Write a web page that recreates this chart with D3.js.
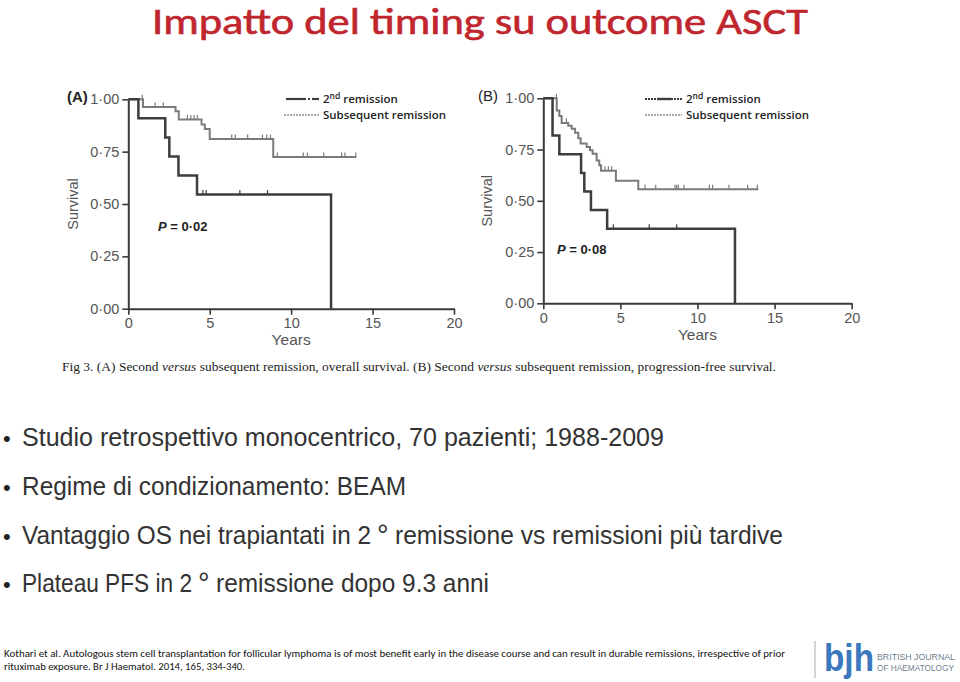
<!DOCTYPE html>
<html><head><meta charset="utf-8">
<script src="https://cdn.jsdelivr.net/npm/d3@7"></script>
<style>
html,body{margin:0;padding:0;background:#fff;}
svg{display:block;}
</style></head>
<body>
<script>
// ---------- DATA ----------
const timeTicks = [0, 5, 10, 15, 20];
const survTicks = [0, 0.25, 0.5, 0.75, 1];

// Panel A: overall survival
const osSecondSteps = [[0,1],[0.62,0.909],[2.27,0.818],[2.52,0.727],[3.08,0.636],[4.22,0.545]];
const osSecondEnd = 12.45;
const osSecondCensor = [4.58, 4.78, 6.85, 8.55];
const osSubsequentSteps = [[0,1],[0.9,0.963],[2.9,0.943],[3.1,0.904],[4.5,0.88],[4.7,0.858],[5.0,0.81],[8.9,0.724]];
const osSubsequentEnd = 14.0;
const osSubsequentCensor = [0.86,1.65,2.15,3.63,3.84,4.04,4.24,6.35,6.57,7.33,8.24,8.5,8.73,9.15,10.74,11.0,12.0,13.1,13.3,13.97];

// Panel B: progression-free survival
const pfsSecondSteps = [[0,1],[0.6,0.818],[1.04,0.727],[2.45,0.636],[2.66,0.545],[3.09,0.455],[4.14,0.364]];
const pfsSecondEnd = 12.43;
const pfsSecondCensor = [4.54, 6.87, 8.65];
const pfsSubsequentSteps = [[0,1],[0.87,0.941],[1.04,0.914],[1.19,0.88],[1.62,0.866],[1.84,0.851],[2.06,0.832],[2.27,0.805],[2.42,0.78],[2.81,0.763],[3.03,0.747],[3.2,0.73],[3.46,0.697],[3.63,0.673],[3.74,0.647],[4.71,0.598],[6.16,0.556]];
const pfsSubsequentEnd = 13.94;
const pfsSubsequentCensor = [0.85,1.5,4.0,4.22,4.43,6.6,7.29,8.54,8.65,8.76,9.12,10.77,10.98,12.04,13.25,13.88];

const legendLabels = ["remission", "Subsequent remission"];
const pValues = ["0·02", "0·08"];
const panelLetters = ["(A)", "(B)"];

const titleText = "Impatto del timing su outcome ASCT";
const captionParts = [["Fig 3.  (A) Second ", false],["versus",true],[" subsequent remission, overall survival. (B) Second ",false],["versus",true],[" subsequent remission, progression-free survival.",false]];
const bullets = [
  ["Studio retrospettivo monocentrico, 70 pazienti; 1988-2009"],
  ["Regime di condizionamento: BEAM"],
  ["Vantaggio OS nei trapiantati in 2", "remissione vs remissioni più tardive"],
  ["Plateau PFS in 2", "remissione dopo 9.3 anni"]
];
const citation = ["Kothari et al. Autologous stem cell transplantation for follicular lymphoma is of most benefit early in the disease course and can result in durable remissions, irrespective of prior",
  "rituximab exposure. Br J Haematol. 2014, 165, 334-340."];

// ---------- DRAW ----------
const W = 960, H = 682;
const svg = d3.select("body").append("svg").attr("width", W).attr("height", H);
svg.append("rect").attr("width", W).attr("height", H).attr("fill", "#fff");

svg.append("text").attr("x", 152).attr("y", 33.5)
  .attr("font-family", "Carlito, 'Liberation Sans', Arial, sans-serif").attr("font-size", 37.5)
  .attr("fill", "#c0262d").attr("stroke", "#c0262d").attr("stroke-width", 0.6)
  .attr("textLength", 656).attr("lengthAdjust", "spacingAndGlyphs")
  .text(titleText);

function stepValue(steps, t){
  let v = steps[0][1];
  for (const s of steps){ if (s[0] <= t) v = s[1]; }
  return v;
}

function panel(cfg){
  const x = d3.scaleLinear().domain([0,20]).range([cfg.x0, cfg.x1]);
  const y = d3.scaleLinear().domain([0,1]).range([cfg.y0, cfg.y1]);
  const g = svg.append("g");
  const axisColor = "#3a3a3a", labelColor = "#555";

  const xa = g.append("g").attr("transform", `translate(0,${cfg.y0})`)
    .call(d3.axisBottom(x).tickValues(timeTicks).tickSize(6).tickSizeOuter(0).tickFormat(d3.format("d")));
  const ya = g.append("g").attr("transform", `translate(${cfg.x0},0)`)
    .call(d3.axisLeft(y).tickValues(survTicks).tickSize(6).tickSizeOuter(0).tickFormat(d => d.toFixed(2).replace(".", "·")));
  [xa, ya].forEach(a => {
    a.select(".domain").attr("stroke", axisColor).attr("stroke-width", 2);
    a.selectAll(".tick line").attr("stroke", axisColor).attr("stroke-width", 1.6);
    a.selectAll(".tick text").attr("fill", labelColor).attr("font-family", "'Liberation Sans', Arial, sans-serif").attr("font-size", 14.5);
  });
  xa.selectAll(".tick text").attr("dy", "0.95em").attr("y", 6);
  ya.selectAll(".tick text").attr("x", -9);
  g.append("text").attr("x", (cfg.x0 + cfg.x1)/2).attr("y", cfg.yearsY).attr("text-anchor", "middle")
    .attr("fill", labelColor).attr("font-family", "'Liberation Sans', Arial, sans-serif").attr("font-size", 15.5).text("Years");
  g.append("text").attr("transform", `translate(${cfg.survX},${(cfg.y0+cfg.y1)/2}) rotate(-90)`)
    .attr("text-anchor", "middle").attr("fill", labelColor)
    .attr("font-family", "'Liberation Sans', Arial, sans-serif").attr("font-size", 14.5).text("Survival");
  g.append("text").attr("x", cfg.letterX).attr("y", cfg.y1 + 3).attr("fill", "#222")
    .attr("font-family", "'Liberation Sans', Arial, sans-serif").attr("font-size", 15)
    .attr("font-weight", cfg.letterBold ? "bold" : "normal").text(cfg.letter);

  const line = d3.line().x(d => x(d[0])).y(d => y(d[1])).curve(d3.curveStepAfter);

  function curve(steps, end, drop, censor, color, width){
    const last = steps[steps.length-1][1];
    const pts = steps.concat([[end, last]]);
    if (drop) pts.push([end, 0]);
    g.append("path").attr("d", line(pts)).attr("fill", "none").attr("stroke", color)
      .attr("stroke-width", width).attr("stroke-linejoin", "miter");
    g.selectAll(null).data(censor).enter().append("line")
      .attr("x1", d => x(d)).attr("x2", d => x(d))
      .attr("y1", d => y(stepValue(steps, d)) - 4.5).attr("y2", d => y(stepValue(steps, d)))
      .attr("stroke", color).attr("stroke-width", 1.2);
  }
  curve(cfg.sub, cfg.subEnd, false, cfg.subC, "#7b7b7b", 2);
  curve(cfg.sec, cfg.secEnd, true, cfg.secC, "#3d3d3d", 2.5);

  // P value
  const pt = g.append("text").attr("x", cfg.pX).attr("y", cfg.pY).attr("fill", "#222")
    .attr("font-family", "'Liberation Sans', Arial, sans-serif").attr("font-size", 13).attr("font-weight", "bold");
  pt.append("tspan").attr("font-style", "italic").text("P");
  pt.append("tspan").text(" = " + cfg.p);

  // legend
  const lx = cfg.legX, lt = cfg.legTextX;
  if (cfg.letterBold){
    g.append("line").attr("x1", lx+2).attr("x2", lx+22).attr("y1", cfg.legY).attr("y2", cfg.legY).attr("stroke", "#3d3d3d").attr("stroke-width", 2.2);
    g.append("line").attr("x1", lx+24).attr("x2", lx+26).attr("y1", cfg.legY).attr("y2", cfg.legY).attr("stroke", "#3d3d3d").attr("stroke-width", 2.2);
    g.append("line").attr("x1", lx+28).attr("x2", lt-4).attr("y1", cfg.legY).attr("y2", cfg.legY).attr("stroke", "#3d3d3d").attr("stroke-width", 2.2);
  } else {
    g.append("line").attr("x1", lx).attr("x2", lx+12).attr("y1", cfg.legY).attr("y2", cfg.legY).attr("stroke", "#3d3d3d").attr("stroke-width", 2).attr("stroke-dasharray", "2,1");
    g.append("line").attr("x1", lx+12).attr("x2", lx+26).attr("y1", cfg.legY).attr("y2", cfg.legY).attr("stroke", "#3d3d3d").attr("stroke-width", 2.4);
    g.append("line").attr("x1", lx+26).attr("x2", lt-4).attr("y1", cfg.legY).attr("y2", cfg.legY).attr("stroke", "#3d3d3d").attr("stroke-width", 2).attr("stroke-dasharray", "2,1");
  }
  g.append("line").attr("x1", lx).attr("x2", lt-4).attr("y1", cfg.legY+16).attr("y2", cfg.legY+16)
    .attr("stroke", "#555").attr("stroke-width", 1).attr("stroke-dasharray", "2,1");
  const t1 = g.append("text").attr("x", lt).attr("y", cfg.legY+4).attr("fill", "#222")
    .attr("font-family", "'Open Sans', sans-serif").attr("font-size", 11.5).attr("font-weight", 600);
  t1.append("tspan").text("2");
  t1.append("tspan").attr("font-size", 8.5).attr("dy", -4).text("nd");
  t1.append("tspan").attr("dy", 4).text(" " + legendLabels[0]);
  g.append("text").attr("x", lt).attr("y", cfg.legY+20).attr("fill", "#222")
    .attr("font-family", "'Open Sans', sans-serif").attr("font-size", 11.5).attr("font-weight", 600)
    .attr("textLength", 123).attr("lengthAdjust", "spacingAndGlyphs")
    .text(legendLabels[1]);
}

panel({x0:128.3, x1:454, y0:308.7, y1:99.3, yearsY:345, survX:78, letter:panelLetters[0], letterX:67, letterBold:true,
  sec:osSecondSteps, secEnd:osSecondEnd, secC:osSecondCensor, sub:osSubsequentSteps, subEnd:osSubsequentEnd, subC:osSubsequentCensor,
  p:pValues[0], pX:158, pY:231, legX:284, legTextX:323, legY:99});
panel({x0:543.3, x1:851.7, y0:303.3, y1:98.3, yearsY:340, survX:492, letter:panelLetters[1], letterX:478, letterBold:false,
  sec:pfsSecondSteps, secEnd:pfsSecondEnd, secC:pfsSecondCensor, sub:pfsSubsequentSteps, subEnd:pfsSubsequentEnd, subC:pfsSubsequentCensor,
  p:pValues[1], pX:557, pY:254, legX:645, legTextX:686, legY:99});

// caption
const cap = svg.append("text").attr("x", 62).attr("y", 371).attr("fill", "#222")
  .attr("font-family", "'Liberation Serif', 'DejaVu Serif', serif").attr("font-size", 13)
  .attr("textLength", 714).attr("lengthAdjust", "spacingAndGlyphs");
captionParts.forEach(p => cap.append("tspan").attr("font-style", p[1] ? "italic" : "normal").text(p[0]));

// bullets
const bulletYs = [446, 495, 544, 592];
const bulletPos = [[22, 642], [22, 384], [22, 349, 377, 395, 388], [22, 170, 198, 216, 273]];
const bulletFont = "'Liberation Sans Narrow', 'Liberation Sans', Arial, sans-serif";
bullets.forEach((b, i) => {
  const p = bulletPos[i];
  svg.append("text").attr("x", 3).attr("y", bulletYs[i]).attr("fill", "#222")
    .attr("font-family", "'Liberation Sans', Arial, sans-serif").attr("font-size", 22).text("•");
  svg.append("text").attr("x", p[0]).attr("y", bulletYs[i]).attr("fill", "#333")
    .attr("font-family", bulletFont).attr("font-size", 25)
    .attr("textLength", p[1]).attr("lengthAdjust", "spacingAndGlyphs").text(b[0]);
  if (b.length > 1){
    svg.append("text").attr("x", p[2]).attr("y", bulletYs[i] + 1).attr("fill", "#333")
      .attr("font-family", "'Liberation Sans', Arial, sans-serif").attr("font-size", 29).text("°");
    svg.append("text").attr("x", p[3]).attr("y", bulletYs[i]).attr("fill", "#333")
      .attr("font-family", bulletFont).attr("font-size", 25)
      .attr("textLength", p[4]).attr("lengthAdjust", "spacingAndGlyphs").text(b[1]);
  }
});

// citation
citation.forEach((c, i) => {
  svg.append("text").attr("x", 4).attr("y", 657 + i*13).attr("fill", "#111")
    .attr("font-family", "Carlito, 'Open Sans', sans-serif").attr("font-size", 10.5)
    .attr("textLength", i === 0 ? 781 : 241).attr("lengthAdjust", "spacingAndGlyphs").text(c);
});

// bjh logo
svg.append("line").attr("x1", 815).attr("x2", 815).attr("y1", 641).attr("y2", 678).attr("stroke", "#aaa").attr("stroke-width", 1);
svg.append("text").attr("x", 824).attr("y", 671).attr("fill", "#3b78bd")
  .attr("font-family", "'Liberation Sans', Arial, sans-serif").attr("font-size", 38).attr("font-weight", "bold")
  .attr("textLength", 50).attr("lengthAdjust", "spacingAndGlyphs").text("bjh");
svg.append("text").attr("x", 877).attr("y", 660).attr("fill", "#6f7f8f")
  .attr("font-family", "'Liberation Sans', Arial, sans-serif").attr("font-size", 9)
  .attr("textLength", 78).attr("lengthAdjust", "spacingAndGlyphs").text("BRITISH JOURNAL");
svg.append("text").attr("x", 877).attr("y", 671).attr("fill", "#6f7f8f")
  .attr("font-family", "'Liberation Sans', Arial, sans-serif").attr("font-size", 9)
  .attr("textLength", 77).attr("lengthAdjust", "spacingAndGlyphs").text("OF HAEMATOLOGY");
</script>
</body></html>
